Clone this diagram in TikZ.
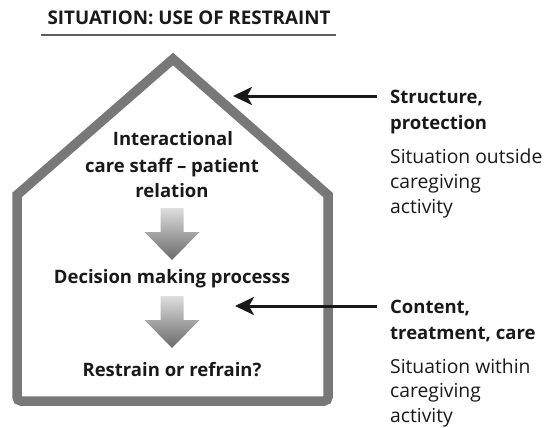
\documentclass[tikz,border=0pt]{standalone}
\usepackage{fontspec}
\setmainfont{Open Sans}
\usetikzlibrary{arrows.meta}
\definecolor{wallgray}{RGB}{120,120,120}
\definecolor{rulegray}{RGB}{95,95,95}
\definecolor{arrtop}{RGB}{222,222,222}
\definecolor{arrbot}{RGB}{105,105,105}
\definecolor{inkblack}{RGB}{25,25,25}
\begin{document}
\begin{tikzpicture}[x=1pt,y=-1pt,
  housewall/.style={draw=wallgray, line width=9.5pt, line join=miter},
  pointer/.style={draw=inkblack, line width=3pt,
    -{Stealth[length=19pt,width=18pt,inset=5pt]}, shorten <=13pt},
  headtext/.style={inner sep=0pt, text=inkblack, font=\bfseries\fontsize{18.5}{22}\selectfont},
  plaintext/.style={inner sep=0pt, text=inkblack, font=\fontsize{19.3}{23}\selectfont},
  titletext/.style={inner sep=0pt, text=inkblack, font=\bfseries\fontsize{18.8}{22}\selectfont},
  downarrow/.pic={
    \shade[top color=arrtop, bottom color=arrbot]
      (-11.5,0) -- (11.5,0) -- (11.5,24) -- (27.5,24) -- (0,52)
      -- (-27.5,24) -- (-11.5,24) -- cycle;
  }]
\useasboundingbox (0,0) rectangle (546,428);

% heading with rule
\node[titletext, anchor=base] (title) at (189,25) {SITUATION: USE OF RESTRAINT};
\draw[rulegray, line width=1.3pt] (41,35) -- (336,35);

% the house outline
\draw[housewall] (17,300) [rounded corners=4pt] -- (17,401) -- (328,401) -- (328,300)
  [sharp corners] -- (328,195) -- (173,59) -- (17,195) -- cycle;

% texts inside the house
\node[headtext, anchor=base] (inter1) at (173,145) {Interactional};
\node[headtext, anchor=base] (inter2) at (172,172) {care staff – patient};
\node[headtext, anchor=base] (inter3) at (172,197) {relation};
\node[headtext, anchor=base] (decide) at (172,283) {Decision making processs};
\node[headtext, anchor=base] (choice) at (172,376) {Restrain or refrain?};

% shaded down arrows between the stages
\pic at (172,208) {downarrow};
\pic at (172,296) {downarrow};

% labels on the right
\node[headtext, anchor=base west] (struct1) at (390,103) {Structure,};
\node[headtext, anchor=base west] (struct2) at (390,129) {protection};
\node[plaintext, anchor=base west] (outside1) at (390,163) {Situation outside};
\node[plaintext, anchor=base west] (outside2) at (390,188) {caregiving};
\node[plaintext, anchor=base west] (outside3) at (390,213) {activity};

\node[headtext, anchor=base west] (content1) at (390,313) {Content,};
\node[headtext, anchor=base west] (content2) at (390,339) {treatment, care};
\node[plaintext, anchor=base west] (within1) at (390,373) {Situation within};
\node[plaintext, anchor=base west] (within2) at (390,397) {caregiving};
\node[plaintext, anchor=base west] (within3) at (390,422) {activity};

% pointers onto the house
\coordinate (roofpt) at (233,96);
\coordinate (roompt) at (235,306);
\draw[pointer] (roofpt -| struct1.west) -- (roofpt);
\draw[pointer] (roompt -| content1.west) -- (roompt);
\end{tikzpicture}
\end{document}
